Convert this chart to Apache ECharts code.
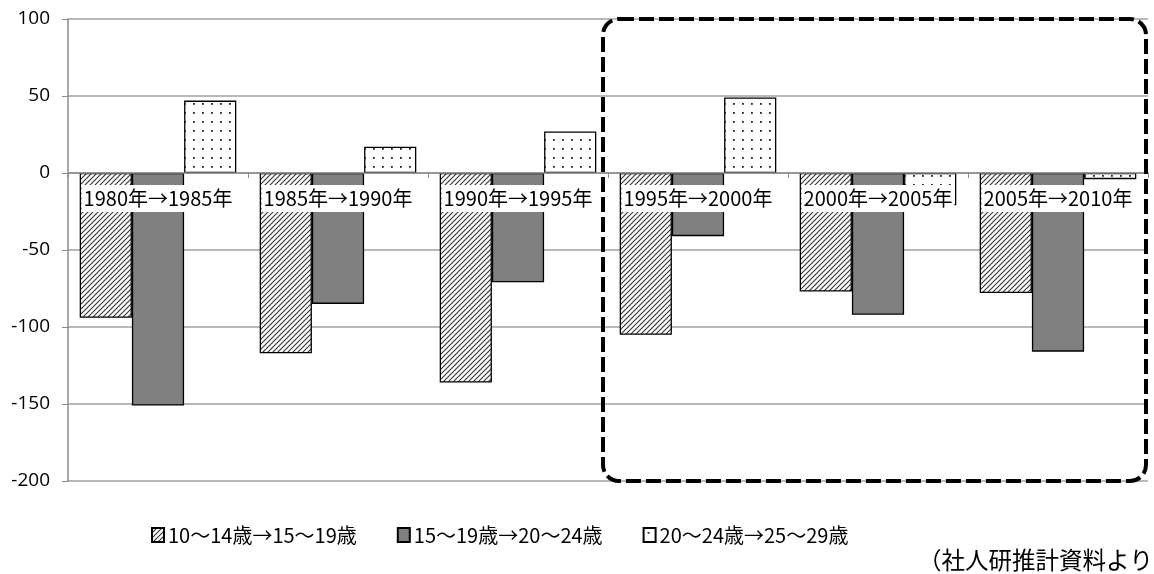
<!DOCTYPE html>
<html>
<head>
<meta charset="utf-8">
<script src="https://cdn.jsdelivr.net/npm/echarts@6/dist/echarts.min.js"></script>
<style>
html,body{margin:0;padding:0;background:#fff;}
#chart{width:1154px;height:574px;}
</style>
</head>
<body>
<div id="chart"></div>
<script>
// Periods (five-year cohort transitions)
const categories = ['1980年→1985年','1985年→1990年','1990年→1995年','1995年→2000年','2000年→2005年','2005年→2010年'];
// Net change per cohort (thousand persons)
const cohortA = [-94, -117, -136, -105, -77, -78];   // 10〜14歳→15〜19歳
const cohortB = [-151, -85, -71, -41, -92, -116];    // 15〜19歳→20〜24歳
const cohortC = [47, 17, 27, 49, -21, -4];           // 20〜24歳→25〜29歳
const seriesNames = ['10〜14歳→15〜19歳','15〜19歳→20〜24歳','20〜24歳→25〜29歳'];
const yTicks = { min: -200, max: 100, interval: 50 };
const note = '（社人研推計資料より）';

function hatchPattern() {
  const s = 5, c = document.createElement('canvas');
  c.width = s; c.height = s;
  const g = c.getContext('2d');
  g.fillStyle = '#fff'; g.fillRect(0, 0, s, s);
  g.strokeStyle = '#333'; g.lineWidth = 1.1;
  g.beginPath();
  g.moveTo(-1, s + 1); g.lineTo(s + 1, -1);
  g.moveTo(-1, 1); g.lineTo(1, -1);
  g.moveTo(s - 1, s + 1); g.lineTo(s + 1, s - 1);
  g.stroke();
  return c;
}
function dotPattern() {
  const s = 9, c = document.createElement('canvas');
  c.width = s; c.height = s;
  const g = c.getContext('2d');
  g.fillStyle = '#fff'; g.fillRect(0, 0, s, s);
  g.fillStyle = '#222';
  g.fillRect(4, 4, 1.8, 1.8);
  return c;
}

const chart = echarts.init(document.getElementById('chart'));
const border = { borderColor: '#000', borderWidth: 1.3 };
const jp = '"Noto Sans CJK JP", "Noto Sans", sans-serif';

chart.setOption({
  animation: false,
  grid: { left: 68, right: 6, top: 19, bottom: 93, containLabel: false },
  legend: {
    left: 146, top: 519,
    icon: 'rect',
    itemWidth: 12, itemHeight: 14, itemGap: 40,
    textStyle: { fontFamily: jp, fontSize: 20, lineHeight: 22, color: '#000', padding: [0, 0, 0, -1] },
    data: seriesNames
  },
  xAxis: {
    type: 'category',
    data: categories,
    z: 10,
    axisLine: { onZero: false, lineStyle: { color: '#8c8c8c', width: 1.5 } },
    axisTick: { show: true, length: 5, lineStyle: { color: '#8c8c8c' } },
    axisLabel: {
      fontFamily: jp, fontSize: 20, lineHeight: 21, color: '#000', margin: 12,
      backgroundColor: '#fff', padding: [3, 2, 3, 2], interval: 0
    }
  },
  yAxis: {
    type: 'value',
    min: yTicks.min, max: yTicks.max, interval: yTicks.interval,
    axisLine: { show: true, lineStyle: { color: '#8c8c8c', width: 1.5 } },
    axisTick: { show: true, length: 6, lineStyle: { color: '#8c8c8c' } },
    axisLabel: { fontFamily: '"Open Sans", "Noto Sans", sans-serif', fontSize: 19, color: '#000', margin: 18 },
    splitLine: { lineStyle: { color: '#a0a0a0', width: 1.5 } }
  },
  series: [
    { name: seriesNames[0], type: 'bar', data: cohortA, barGap: '0%', barCategoryGap: '13%',
      itemStyle: Object.assign({ color: { image: hatchPattern(), repeat: 'repeat' } }, border) },
    { name: seriesNames[1], type: 'bar', data: cohortB, barGap: '0%', barCategoryGap: '13%',
      itemStyle: Object.assign({ color: '#808080' }, border) },
    { name: seriesNames[2], type: 'bar', data: cohortC, barGap: '0%', barCategoryGap: '13%',
      itemStyle: Object.assign({ color: { image: dotPattern(), repeat: 'repeat' } }, border) }
  ]
});

// Move the category axis (line, ticks and labels) up to the zero line
const zeroY = chart.convertToPixel({ yAxisIndex: 0 }, 0);
const baseY = chart.convertToPixel({ yAxisIndex: 0 }, yTicks.min);

// Dashed rounded frame around the last three periods
const px0 = chart.convertToPixel({ xAxisIndex: 0 }, 0);
const px1 = chart.convertToPixel({ xAxisIndex: 0 }, 1);
const band = px1 - px0;
const frameLeft = chart.convertToPixel({ xAxisIndex: 0 }, 3) - band / 2 - 5;
const frameRight = chart.convertToPixel({ xAxisIndex: 0 }, 5) + band / 2 - 2;
const frameTop = chart.convertToPixel({ yAxisIndex: 0 }, yTicks.max);
const frameBottom = baseY;

chart.setOption({
  xAxis: { offset: zeroY - baseY },
  graphic: [
    {
      type: 'rect', z: 100, silent: true,
      shape: { x: frameLeft, y: frameTop, width: frameRight - frameLeft, height: frameBottom - frameTop, r: 16 },
      style: { fill: null, stroke: '#000', lineWidth: 4, lineDash: [15, 5] }
    },
    {
      type: 'text', x: 918, y: 560, silent: true,
      style: { text: note, font: '23.5px ' + jp, fill: '#000', verticalAlign: 'middle', align: 'left' }
    }
  ]
});
</script>
</body>
</html>
